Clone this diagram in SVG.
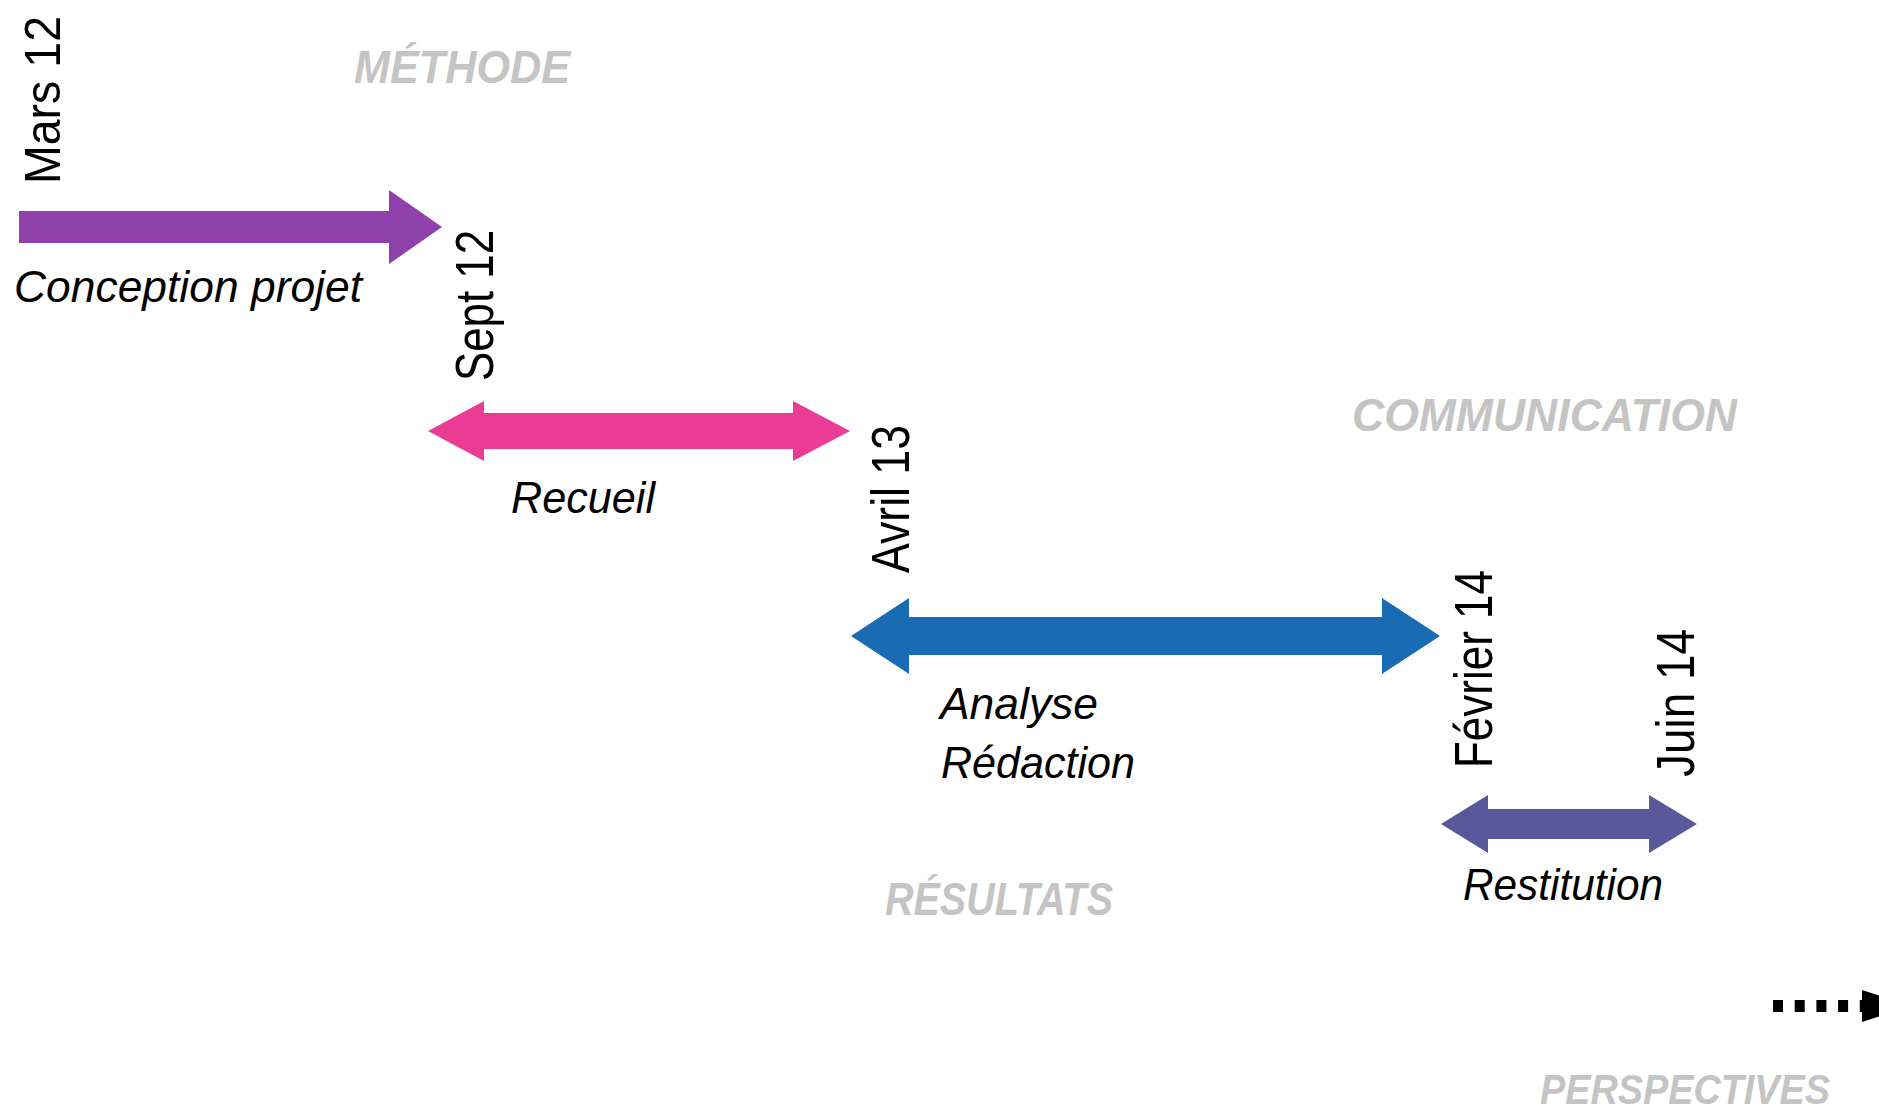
<svg xmlns="http://www.w3.org/2000/svg" width="1879" height="1114" viewBox="0 0 1879 1114">
<style>
.date{font-family:"Liberation Sans",Arial,sans-serif;font-size:54px;fill:#000}
.lbl{font-family:"Liberation Sans",Arial,sans-serif;font-size:44px;font-style:italic;fill:#000}
.head{font-family:"Liberation Sans",Arial,sans-serif;font-size:46px;font-style:italic;font-weight:bold;fill:#C4C4C4}
</style>
<rect width="1879" height="1114" fill="#fff"/>
<g id="heading-methode"><text class="head" x="354" y="83" textLength="216" lengthAdjust="spacingAndGlyphs">MÉTHODE</text></g>
<g id="heading-communication"><text class="head" x="1352" y="431" textLength="385" lengthAdjust="spacingAndGlyphs">COMMUNICATION</text></g>
<g id="heading-resultats"><text class="head" x="885" y="915" textLength="228" lengthAdjust="spacingAndGlyphs">RÉSULTATS</text></g>
<g id="heading-perspectives"><text class="head" x="1540" y="1104" style="font-size:43px" textLength="290" lengthAdjust="spacingAndGlyphs">PERSPECTIVES</text></g>

<g id="date-mars12"><text class="date" transform="translate(60,184) rotate(-90)" style="font-size:50px" textLength="168" lengthAdjust="spacingAndGlyphs">Mars 12</text></g>
<g id="date-sept12"><text class="date" transform="translate(493,381) rotate(-90)" textLength="151" lengthAdjust="spacingAndGlyphs">Sept 12</text></g>
<g id="date-avril13"><text class="date" transform="translate(909,573) rotate(-90)" textLength="148" lengthAdjust="spacingAndGlyphs">Avril 13</text></g>
<g id="date-fevrier14"><text class="date" transform="translate(1492,768) rotate(-90)" textLength="198" lengthAdjust="spacingAndGlyphs">Février 14</text></g>
<g id="date-juin14"><text class="date" transform="translate(1694,777) rotate(-90)" textLength="148" lengthAdjust="spacingAndGlyphs">Juin 14</text></g>

<g id="phase-conception">
<polygon fill="#8E41AA" points="19,211 389,211 389,190 442,227 389,264 389,243 19,243"/>
<text class="lbl" x="14" y="302" textLength="348" lengthAdjust="spacingAndGlyphs">Conception projet</text>
</g>
<g id="phase-recueil">
<polygon fill="#EA3C95" points="428,431 484,401 484,413 793,413 793,401 850,431 793,461 793,449 484,449 484,461"/>
<text class="lbl" x="511" y="513" textLength="144" lengthAdjust="spacingAndGlyphs">Recueil</text>
</g>
<g id="phase-analyse">
<polygon fill="#196CB4" points="851,636 909,598 909,617 1382,617 1382,598 1440,636 1382,674 1382,655 909,655 909,674"/>
<text class="lbl" x="940" y="719" textLength="158" lengthAdjust="spacingAndGlyphs">Analyse</text>
<text class="lbl" x="941" y="778" textLength="194" lengthAdjust="spacingAndGlyphs">Rédaction</text>
</g>
<g id="phase-restitution">
<polygon fill="#59589A" points="1441,824 1488,795 1488,809 1649,809 1649,795 1697,824 1649,853 1649,839 1488,839 1488,853"/>
<text class="lbl" x="1463" y="900" textLength="200" lengthAdjust="spacingAndGlyphs">Restitution</text>
</g>

<g id="connectors">
<line x1="1773" y1="1006" x2="1866" y2="1006" stroke="#000" stroke-width="12" stroke-dasharray="10 11.7"/>
<polygon fill="#000" points="1862,990 1912,1006 1862,1022"/>
</g>
</svg>
